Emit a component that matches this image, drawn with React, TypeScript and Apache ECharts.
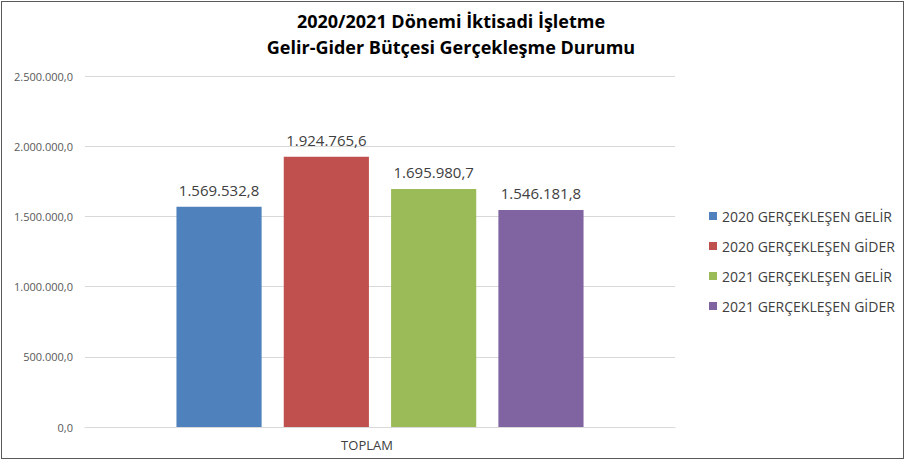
import React, { useEffect, useRef } from "react";
import * as echarts from "echarts";

const categories = ["TOPLAM"];
const seriesNames = [
  "2020 GERÇEKLEŞEN GELİR",
  "2020 GERÇEKLEŞEN GİDER",
  "2021 GERÇEKLEŞEN GELİR",
  "2021 GERÇEKLEŞEN GİDER",
];
const seriesValues = [1569532.8, 1924765.6, 1695980.7, 1546181.8];
const seriesColors = ["#4F81BD", "#C0504D", "#9BBB59", "#8064A2"];
const titleLines = ["2020/2021 Dönemi İktisadi İşletme", "Gelir-Gider Bütçesi Gerçekleşme Durumu"];

function fmtTR(v: number): string {
  const fixed = Math.abs(v).toFixed(1);
  const [intPart, dec] = fixed.split(".");
  const withDots = intPart.replace(/\B(?=(\d{3})+(?!\d))/g, ".");
  return (v < 0 ? "-" : "") + withDots + "," + dec;
}

export default function App() {
  const ref = useRef<HTMLDivElement>(null);
  useEffect(() => {
    document.body.style.margin = "0";
    if (!ref.current) return;
    const chart = echarts.init(ref.current, undefined, { renderer: "svg" });
    const font = "'Open Sans', 'Noto Sans', sans-serif";
    chart.setOption({
      animation: false,
      backgroundColor: "#ffffff",
      textStyle: { fontFamily: font },
      title: {
        text: titleLines.join("\n"),
        left: 446,
        top: 3,
        textAlign: "center",
        textStyle: {
          fontFamily: font,
          fontSize: 18,
          fontWeight: "bold",
          color: "#000000",
          lineHeight: 26,
        },
      },
      legend: {
        orient: "vertical",
        left: 704,
        top: 203,
        itemWidth: 8,
        itemHeight: 8,
        itemGap: 14,
        icon: "rect",
        textStyle: { fontFamily: font, fontSize: 14, color: "#404040", lineHeight: 16 },
        data: seriesNames,
      },
      grid: { left: 85, right: 230, top: 76, bottom: 33 },
      xAxis: {
        type: "category",
        data: categories,
        axisLine: { show: true, lineStyle: { color: "#D9D9D9" } },
        axisTick: { show: false },
        axisLabel: {
          fontFamily: font,
          fontSize: 13,
          color: "#404040",
          margin: 11,
          padding: [0, 26, 0, 0],
        },
      },
      yAxis: {
        type: "value",
        min: 0,
        max: 2500000,
        interval: 500000,
        axisLine: { show: false },
        axisTick: { show: false },
        splitLine: { lineStyle: { color: "#D9D9D9", width: 1 } },
        axisLabel: {
          fontFamily: font,
          fontSize: 11,
          color: "#595959",
          margin: 12,
          formatter: (v: number) => fmtTR(v),
        },
      },
      series: seriesNames.map((name, i) => ({
        name,
        type: "bar",
        data: [seriesValues[i]],
        barGap: "26%",
        barCategoryGap: "31%",
        itemStyle: { color: seriesColors[i] },
        label: {
          show: true,
          position: "top",
          distance: 9,
          fontFamily: font,
          fontSize: 15,
          color: "#404040",
          formatter: (p: any) => fmtTR(p.value),
        },
      })),
    });
    return () => chart.dispose();
  }, []);
  return (
    <div style={{ position: "relative", width: 905, height: 460 }}>
      <div ref={ref} style={{ width: 905, height: 460 }} />
      <div
        style={{
          position: "absolute",
          left: 1,
          top: 1,
          width: 901,
          height: 456,
          border: "1.5px solid #595959",
          pointerEvents: "none",
        }}
      />
    </div>
  );
}
